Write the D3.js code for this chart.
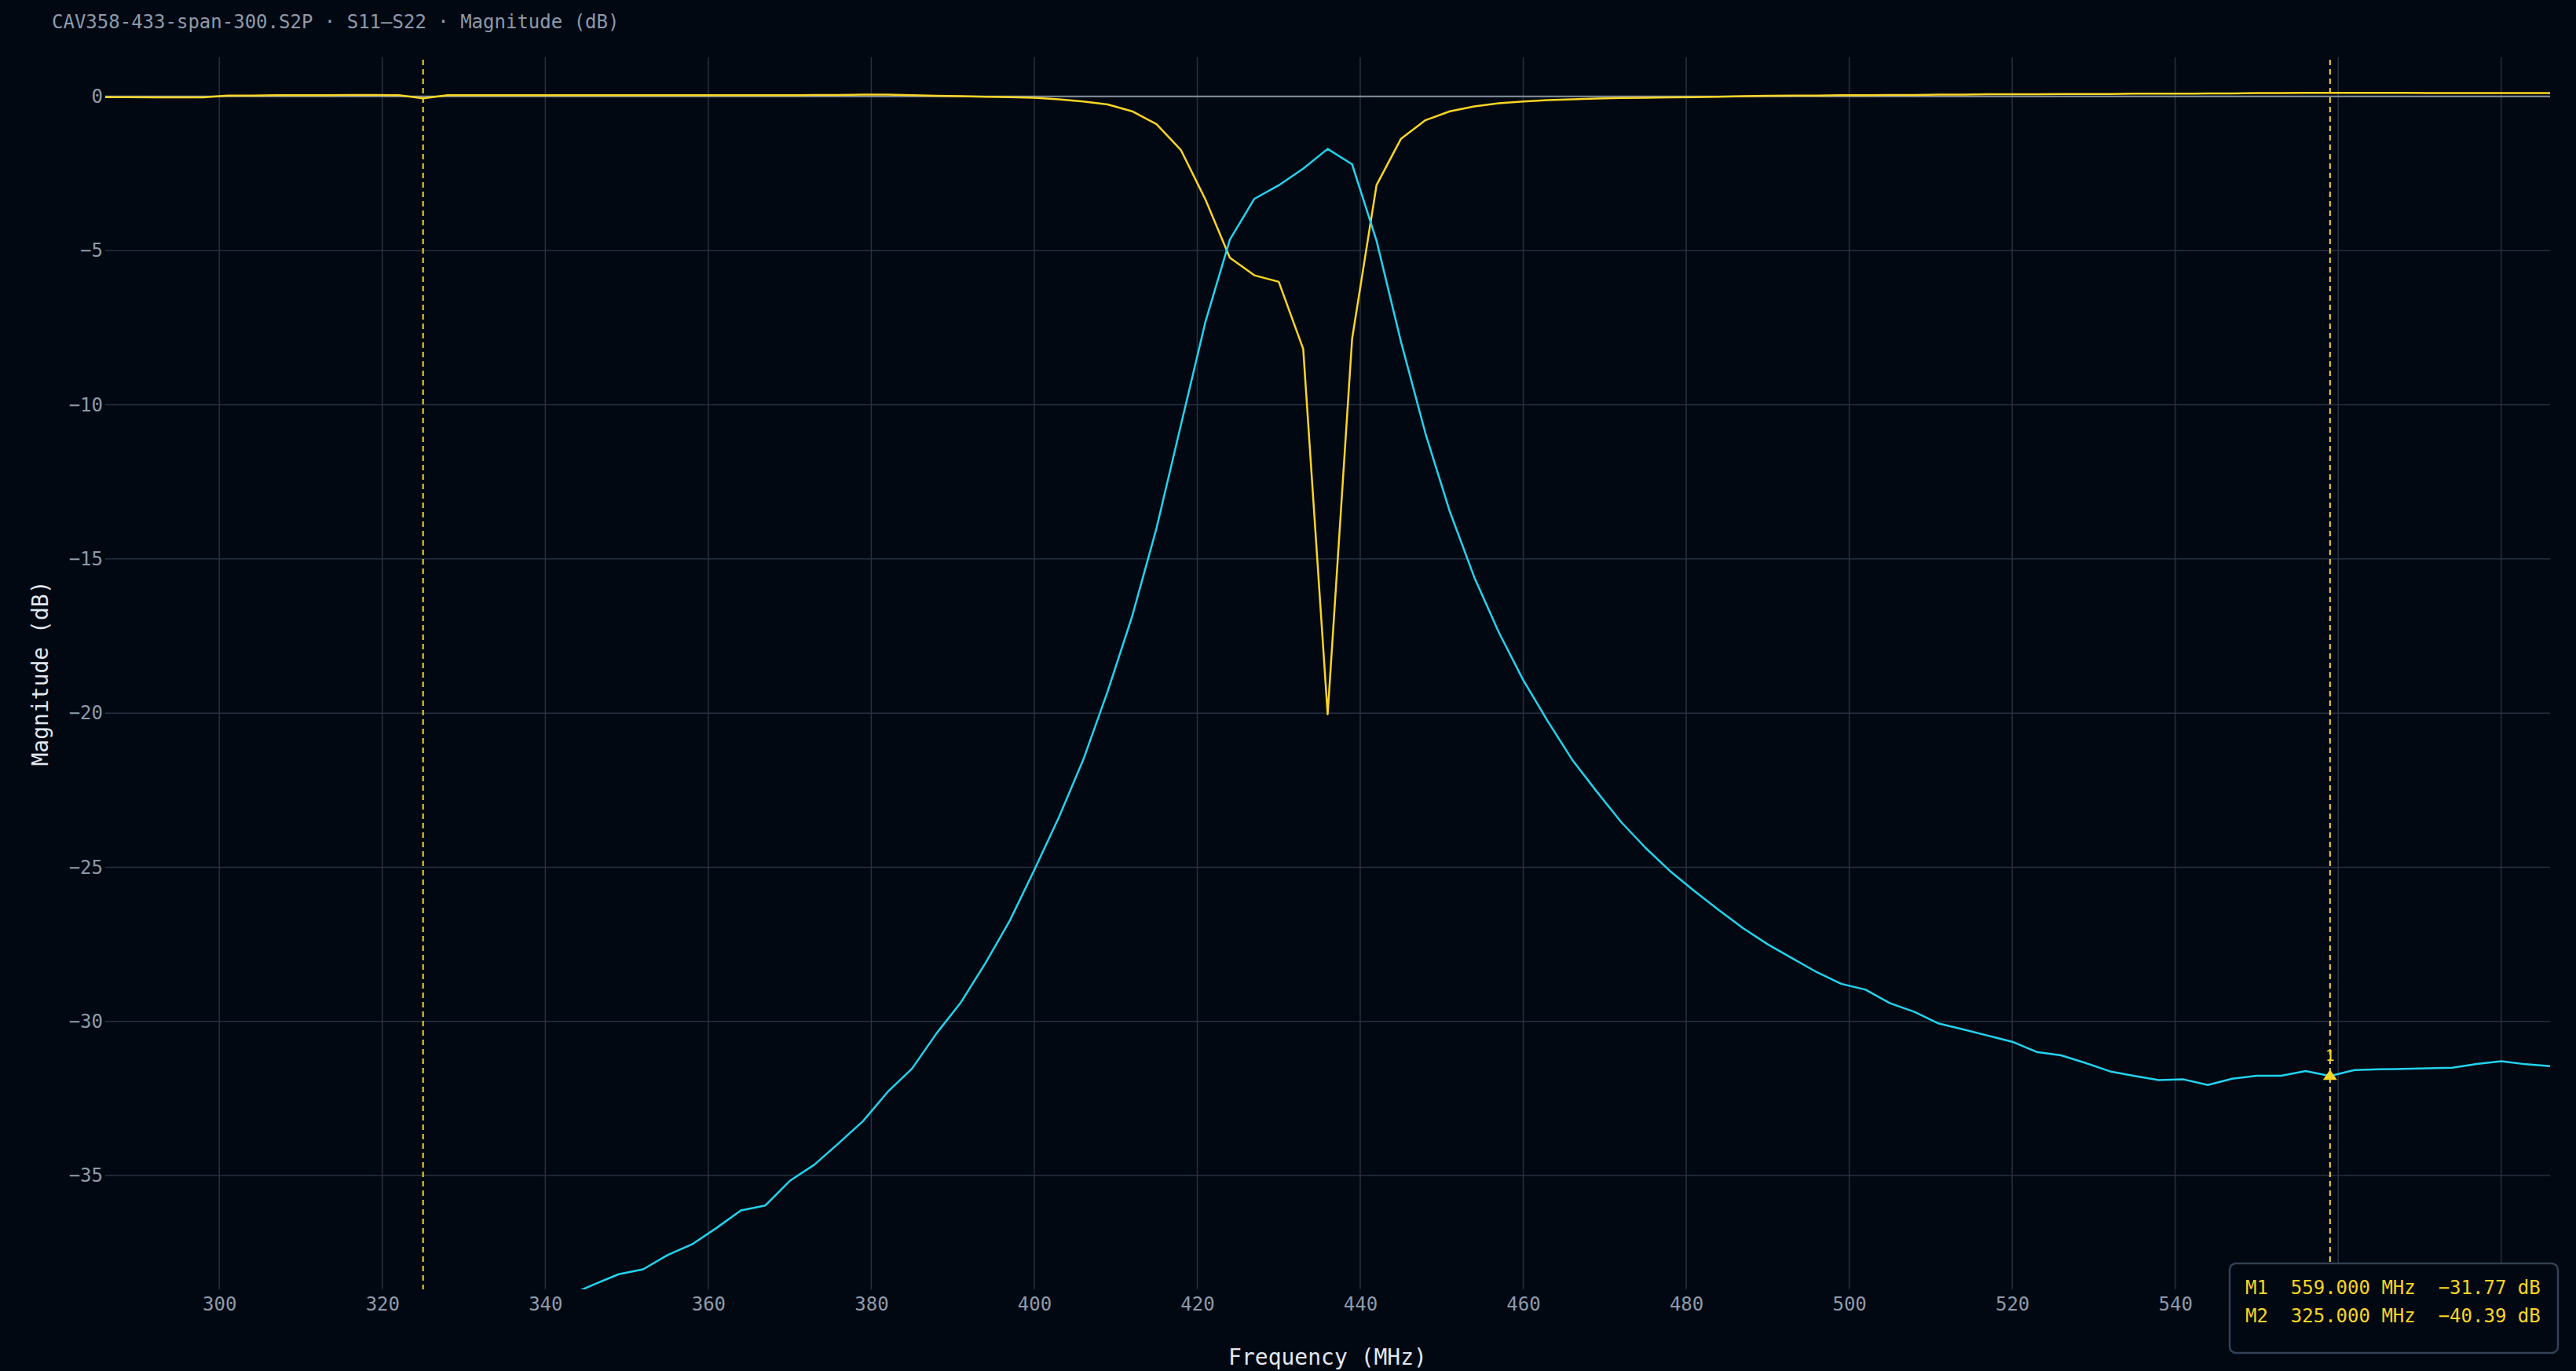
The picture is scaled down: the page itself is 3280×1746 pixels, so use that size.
<!DOCTYPE html>
<html>
<head>
<meta charset="utf-8">
<script src="https://cdn.jsdelivr.net/npm/d3@7"></script>
<style>
  html, body { margin: 0; padding: 0; background: #010812; }
  svg { display: block; font-family: "DejaVu Sans Mono", monospace; }
</style>
</head>
<body>
<div id="chart"></div>
<script>
// sweep points (MHz)
const freqMHz = [
  286, 289, 292, 295, 298, 301, 304, 307, 310, 313, 316, 319, 322, 325, 328, 331, 334, 337, 340, 343,
  346, 349, 352, 355, 358, 361, 364, 367, 370, 373, 376, 379, 382, 385, 388, 391, 394, 397, 400, 403,
  406, 409, 412, 415, 418, 421, 424, 427, 430, 433, 436, 439, 442, 445, 448, 451, 454, 457, 460, 463,
  466, 469, 472, 475, 478, 481, 484, 487, 490, 493, 496, 499, 502, 505, 508, 511, 514, 517, 520, 523,
  526, 529, 532, 535, 538, 541, 544, 547, 550, 553, 556, 559, 562, 565, 568, 571, 574, 577, 580, 583,
  586
];

// reflection trace (yellow)
const s11dB = [
  -0.02, -0.02, -0.03, -0.03, -0.03, 0.03, 0.03, 0.04, 0.04, 0.04, 0.05, 0.05, 0.04, -0.06, 0.04, 0.04, 0.04, 0.04, 0.04, 0.04,
  0.04, 0.04, 0.04, 0.04, 0.04, 0.04, 0.04, 0.04, 0.04, 0.05, 0.05, 0.06, 0.06, 0.04, 0.02, 0.01, -0.01, -0.02, -0.04, -0.09,
  -0.16, -0.26, -0.48, -0.90, -1.74, -3.34, -5.23, -5.80, -6.01, -8.19, -20.04, -7.86, -2.87, -1.37, -0.77, -0.48, -0.32, -0.22, -0.16, -0.12,
  -0.09, -0.07, -0.05, -0.04, -0.03, -0.02, -0.01, 0.01, 0.02, 0.03, 0.03, 0.04, 0.04, 0.05, 0.05, 0.06, 0.06, 0.07, 0.07, 0.07,
  0.08, 0.08, 0.08, 0.09, 0.09, 0.09, 0.10, 0.10, 0.11, 0.11, 0.12, 0.12, 0.12, 0.12, 0.12, 0.11, 0.11, 0.11, 0.11, 0.11,
  0.11
];

// transmission trace (cyan)
const s21dB = [
  -46.8, -46.3, -45.7, -45.1, -44.4, -43.8, -43.3, -42.8, -42.3, -41.8, -41.4, -41.0, -40.7, -40.39, -40.1, -39.8, -39.5, -39.3, -39.1, -38.87,
  -38.53, -38.2, -38.04, -37.58, -37.23, -36.7, -36.13, -35.97, -35.17, -34.65, -33.95, -33.23, -32.29, -31.53, -30.39, -29.38, -28.11, -26.73, -25.09, -23.39,
  -21.52, -19.3, -16.87, -14.0, -10.65, -7.31, -4.64, -3.32, -2.88, -2.34, -1.70, -2.20, -4.68, -7.96, -10.93, -13.47, -15.6, -17.38, -18.93, -20.26,
  -21.51, -22.54, -23.53, -24.37, -25.12, -25.77, -26.39, -26.98, -27.5, -27.95, -28.4, -28.78, -28.97, -29.41, -29.69, -30.07, -30.26, -30.46, -30.66, -30.99,
  -31.10, -31.35, -31.62, -31.77, -31.90, -31.88, -32.06, -31.86, -31.76, -31.76, -31.61, -31.77, -31.58, -31.55, -31.54, -31.52, -31.50, -31.38, -31.29, -31.39,
  -31.45
];

const xTicks = [300, 320, 340, 360, 380, 400, 420, 440, 460, 480, 500, 520, 540, 560, 580];
const yTicks = [0, -5, -10, -15, -20, -25, -30, -35];

const markerNames = ['M1', 'M2'];
const markerFreqs = [559, 325];

const W = 3280, H = 1746;
const margin = { top: 73, right: 33, bottom: 104, left: 134 };
const width = W - margin.left - margin.right;
const height = H - margin.top - margin.bottom;

const bg = '#010812', grid = '#263140', tickCol = '#8e9aab';
const yellow = '#fad524', cyan = '#22d3ee';

const svg = d3.select('#chart').append('svg')
  .attr('width', W)
  .attr('height', H);

svg.append('rect').attr('width', W).attr('height', H).attr('fill', bg);

svg.append('text')
  .attr('x', 66).attr('y', 36)
  .attr('fill', tickCol)
  .attr('font-size', 24)
  .text('CAV358-433-span-300.S2P \u00b7 S11\u2013S22 \u00b7 Magnitude (dB)');

const g = svg.append('g').attr('transform', `translate(${margin.left},${margin.top})`);

const x = d3.scaleLinear().domain([286, 586]).range([0, width]);
const y = d3.scaleLinear().domain([-38.69, 1.27]).range([height, 0]);

// grid
g.append('g')
  .selectAll('line.vx')
  .data(xTicks)
  .enter().append('line')
  .attr('x1', d => x(d)).attr('x2', d => x(d))
  .attr('y1', 0).attr('y2', height)
  .attr('stroke', grid).attr('stroke-width', 1.5);

g.append('g')
  .selectAll('line.hy')
  .data(yTicks.filter(d => d !== 0))
  .enter().append('line')
  .attr('x1', 0).attr('x2', width)
  .attr('y1', d => y(d)).attr('y2', d => y(d))
  .attr('stroke', grid).attr('stroke-width', 1.5);

// zero reference
g.append('line')
  .attr('x1', 0).attr('x2', width)
  .attr('y1', y(0)).attr('y2', y(0))
  .attr('stroke', '#8a94a2').attr('stroke-width', 2);

// axes (labels only)
const fmt = d3.format('d');
const xAxis = g.append('g')
  .attr('transform', `translate(0,${height})`)
  .call(d3.axisBottom(x).tickValues(xTicks).tickSize(0).tickPadding(10).tickFormat(fmt));
const yAxis = g.append('g')
  .call(d3.axisLeft(y).tickValues(yTicks).tickSize(0).tickPadding(3).tickFormat(fmt));

[xAxis, yAxis].forEach(a => {
  a.select('.domain').remove();
  a.selectAll('text')
    .attr('fill', tickCol)
    .attr('font-size', 24)
    .attr('font-family', '"DejaVu Sans Mono", monospace');
});

// traces
g.append('clipPath').attr('id', 'plot-clip')
  .append('rect').attr('width', width).attr('height', height);

const traces = [
  { values: s11dB, color: yellow },
  { values: s21dB, color: cyan }
];

const line = d3.line()
  .x((d, i) => x(freqMHz[i]))
  .y(d => y(d));

const plot = g.append('g').attr('clip-path', 'url(#plot-clip)');

plot.selectAll('path.trace')
  .data(traces)
  .enter().append('path')
  .attr('class', 'trace')
  .attr('d', d => line(d.values))
  .attr('fill', 'none')
  .attr('stroke', d => d.color)
  .attr('stroke-width', 2.5)
  .attr('stroke-linejoin', 'round');

// markers
const markers = markerFreqs.map((f, i) => {
  const idx = freqMHz.indexOf(f);
  return { name: markerNames[i], num: i + 1, freq: f, value: s21dB[idx] };
});

g.selectAll('line.marker')
  .data(markers)
  .enter().append('line')
  .attr('x1', d => x(d.freq)).attr('x2', d => x(d.freq))
  .attr('y1', 3).attr('y2', height)
  .attr('stroke', yellow)
  .attr('stroke-width', 2)
  .attr('stroke-dasharray', '7,5');

const [yLo, yHi] = y.domain();
const visible = markers.filter(d => d.value >= yLo && d.value <= yHi);

g.selectAll('path.tri')
  .data(visible)
  .enter().append('path')
  .attr('d', d => {
    const cx = x(d.freq), cy = y(d.value);
    return `M${cx},${cy - 8}L${cx + 9},${cy + 5}L${cx - 9},${cy + 5}Z`;
  })
  .attr('fill', yellow);

g.selectAll('text.mnum')
  .data(visible)
  .enter().append('text')
  .attr('x', d => x(d.freq))
  .attr('y', d => y(d.value) - 19)
  .attr('text-anchor', 'middle')
  .attr('fill', yellow)
  .attr('font-size', 20)
  .text(d => d.num);

// axis titles
svg.append('text')
  .attr('x', margin.left + width / 2).attr('y', 1738)
  .attr('text-anchor', 'middle')
  .attr('fill', '#e2e8f0')
  .attr('font-size', 28)
  .text('Frequency (MHz)');

svg.append('text')
  .attr('transform', `translate(61,${margin.top + height / 2}) rotate(-90)`)
  .attr('text-anchor', 'middle')
  .attr('fill', '#e2e8f0')
  .attr('font-size', 28)
  .text('Magnitude (dB)');

// marker readout
const box = svg.append('g').attr('transform', 'translate(2839,1609)');
box.append('rect')
  .attr('width', 418).attr('height', 114)
  .attr('rx', 8).attr('ry', 8)
  .attr('fill', bg)
  .attr('stroke', '#334155')
  .attr('stroke-width', 2.5);

const numFmt = d3.format('.2f');
box.selectAll('text')
  .data(markers)
  .enter().append('text')
  .attr('x', 20)
  .attr('y', (d, i) => 39 + i * 36)
  .attr('fill', yellow)
  .attr('font-size', 24)
  .style('white-space', 'pre')
  .text(d => `${d.name}  ${d.freq.toFixed(3)} MHz  ${numFmt(d.value)} dB`);
</script>
</body>
</html>
